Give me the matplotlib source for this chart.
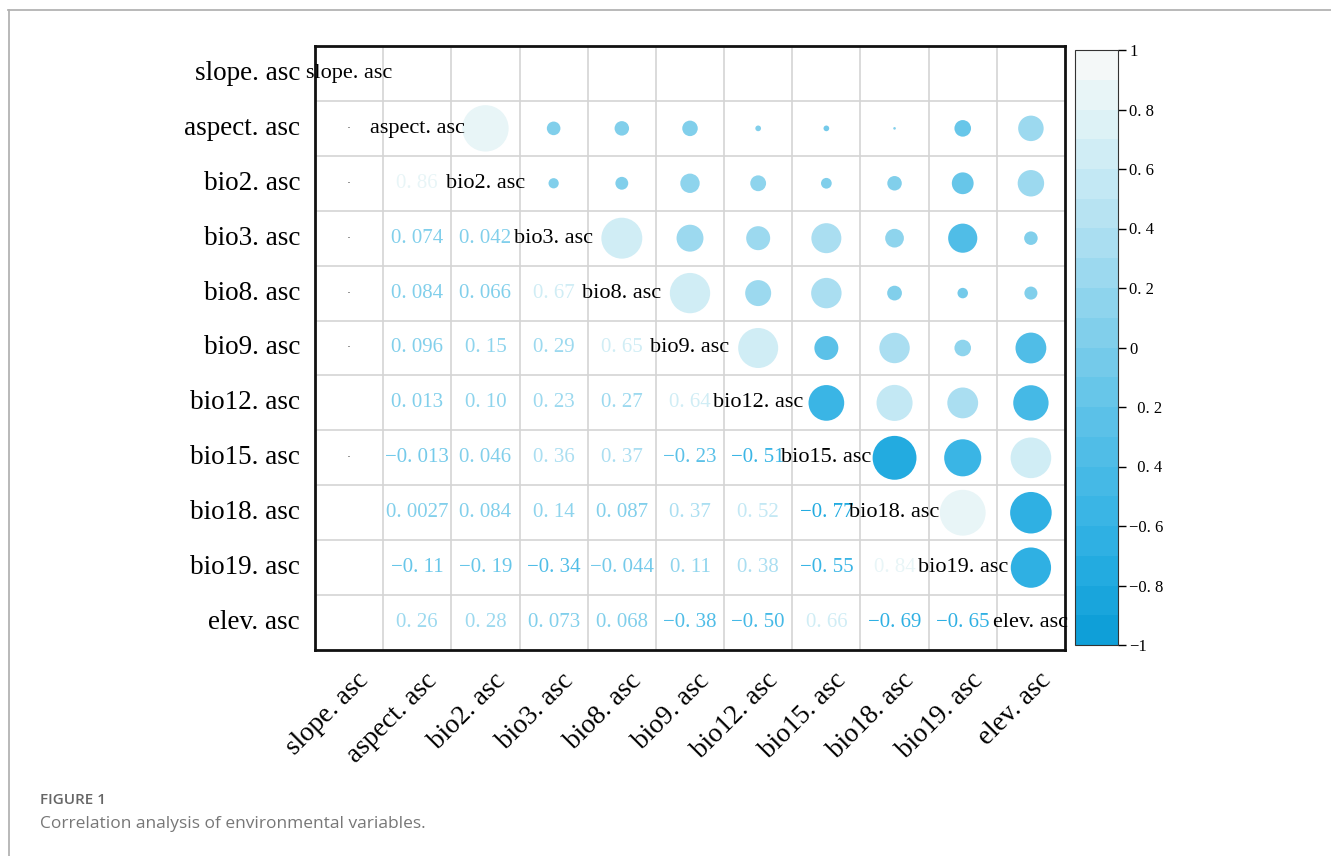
import numpy as np
import matplotlib
matplotlib.use('Agg')
import matplotlib.pyplot as plt
from matplotlib.colors import LinearSegmentedColormap, Normalize
from matplotlib.cm import ScalarMappable
from matplotlib.lines import Line2D
from matplotlib.transforms import ScaledTranslation

variables = ['slope.asc', 'aspect.asc', 'bio2.asc', 'bio3.asc', 'bio8.asc',
             'bio9.asc', 'bio12.asc', 'bio15.asc', 'bio18.asc', 'bio19.asc',
             'elev.asc']

# lower triangle, one list per row; columns start at aspect.asc
r_aspect = []
r_bio2 = [0.86]
r_bio3 = [0.074, 0.042]
r_bio8 = [0.084, 0.066, 0.67]
r_bio9 = [0.096, 0.15, 0.29, 0.65]
r_bio12 = [0.013, 0.10, 0.23, 0.27, 0.64]
r_bio15 = [-0.013, 0.046, 0.36, 0.37, -0.23, -0.51]
r_bio18 = [0.0027, 0.084, 0.14, 0.087, 0.37, 0.52, -0.77]
r_bio19 = [-0.11, -0.19, -0.34, -0.044, 0.11, 0.38, -0.55, 0.84]
r_elev = [0.26, 0.28, 0.073, 0.068, -0.38, -0.50, 0.66, -0.69, -0.65]

# slope.asc has no usable coefficients, only a dot in some rows
slope_dot_rows = ['aspect.asc', 'bio2.asc', 'bio3.asc', 'bio8.asc',
                  'bio9.asc', 'bio15.asc']

cbar_ticks = [-1, -0.8, -0.6, -0.4, -0.2, 0, 0.2, 0.4, 0.6, 0.8, 1]
cbar_labels = ['−1', '−0. 8', '−0. 6', '  0. 4', '  0. 2', '0',
               '0. 2', '0. 4', '0. 6', '0. 8', '1']

lower = [r_aspect, r_bio2, r_bio3, r_bio8, r_bio9, r_bio12, r_bio15,
         r_bio18, r_bio19, r_elev]
n = len(variables)
corr = np.full((n, n), np.nan)
for i, row in enumerate(lower, start=1):
    for j, v in enumerate(row, start=1):
        corr[i, j] = v
        corr[j, i] = v

cmap = LinearSegmentedColormap.from_list(
    'corr_blue',
    ['#0f9fd8', '#22aae0', '#38b4e5', '#4dbce7', '#62c4e9', '#7bccea',
     '#93d6ee', '#aee0f1', '#c6e9f4', '#def2f6', '#f4f8f8'], N=20)
norm = Normalize(-1, 1)

serif = 'Liberation Serif'


def fmt(v):
    s = f'{v:#.2g}'
    return s.replace('.', '. ').replace('-', '−')


def disp(name):
    return name.replace('.', '. ')


fig = plt.figure(figsize=(13.31, 8.56), dpi=100)
ax = fig.add_axes([315 / 1331, 206 / 856, 750 / 1331, 604 / 856])
ax.set_xlim(0, n)
ax.set_ylim(n, 0)
ax.set_xticks([])
ax.set_yticks([])
for k in range(1, n):
    ax.axvline(k, color='#d4d4d4', lw=1.2, zorder=0)
    ax.axhline(k, color='#d4d4d4', lw=1.2, zorder=0)
for sp in ax.spines.values():
    sp.set_linewidth(2)
    sp.set_color('#111111')

# circles in the upper triangle
xs, ys, vals = [], [], []
for i in range(n):
    for j in range(i + 1, n):
        if not np.isnan(corr[i, j]):
            xs.append(j + 0.5)
            ys.append(i + 0.5)
            vals.append(corr[i, j])
vals = np.array(vals)
ax.scatter(xs, ys, s=1296 * np.abs(vals), c=vals, cmap=cmap, norm=norm,
           linewidths=0, zorder=2)

# coefficients in the lower triangle
for i in range(n):
    for j in range(i):
        v = corr[i, j]
        if not np.isnan(v):
            ax.text(j + 0.5, i + 0.5, fmt(v), ha='center', va='center',
                    fontsize=15, family=serif, color=cmap(norm(v)), zorder=3)

for name in slope_dot_rows:
    i = variables.index(name)
    ax.text(0.5, i + 0.5, '·', ha='center', va='center', fontsize=9,
            color='#555555', zorder=3)

# names on the diagonal
for i, name in enumerate(variables):
    ax.text(i + 0.5, i + 0.5, disp(name), ha='center', va='center',
            fontsize=16, family=serif, color='black', zorder=5, clip_on=False)

# row labels
ytr = ax.get_yaxis_transform()
for i, name in enumerate(variables):
    ax.text(-0.02, i + 0.5, disp(name), transform=ytr, ha='right',
            va='center', fontsize=19.5, family=serif, color='black')

# column labels
xtr = ax.get_xaxis_transform() + ScaledTranslation(16 / 100, -27 / 100,
                                                   fig.dpi_scale_trans)
for j, name in enumerate(variables):
    ax.text(j + 0.5, 0, disp(name), transform=xtr, rotation=45,
            rotation_mode='anchor', ha='right', va='center', fontsize=19.5,
            family=serif, color='black')

# colour bar
cax = fig.add_axes([1075 / 1331, 211 / 856, 43 / 1331, 595 / 856])
cb = fig.colorbar(ScalarMappable(norm=norm, cmap=cmap), cax=cax,
                  ticks=cbar_ticks)
cb.ax.set_yticklabels(cbar_labels, fontsize=12, family=serif)
cb.outline.set_linewidth(0.8)
cb.outline.set_edgecolor('#333333')
cax.tick_params(length=6, width=1, pad=2)

# caption and frame
fig.text(40 / 1331, 1 - 800 / 856, 'FIGURE 1', fontsize=11, color='#666666',
         family='Open Sans', weight='semibold', va='center')
fig.text(40 / 1331, 1 - 824 / 856,
         'Correlation analysis of environmental variables.', fontsize=12.5,
         color='#777777', family='Open Sans', va='center')
fig.add_artist(Line2D([8 / 1331, 1], [1 - 9.5 / 856] * 2,
                      transform=fig.transFigure, color='#b3b3b3', lw=1.3))
fig.add_artist(Line2D([9 / 1331] * 2, [0, 1 - 9.5 / 856],
                      transform=fig.transFigure, color='#b3b3b3', lw=1.3))

fig.savefig('out.png', dpi=100)
